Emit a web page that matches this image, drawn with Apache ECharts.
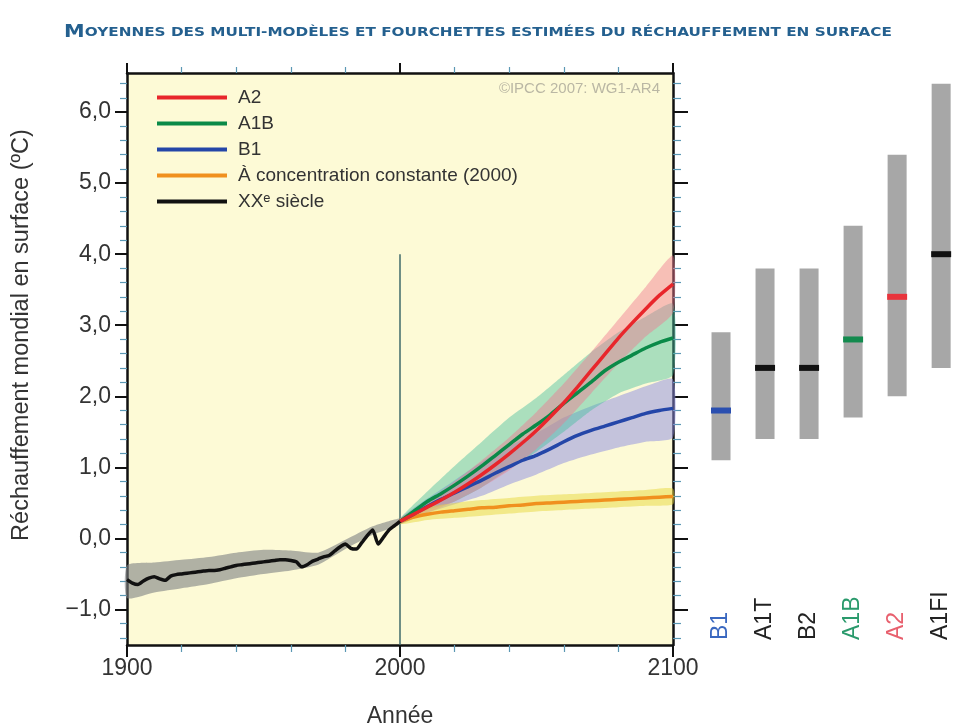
<!DOCTYPE html>
<html><head><meta charset="utf-8">
<script src="https://cdn.jsdelivr.net/npm/echarts@6/dist/echarts.min.js"></script>
<style>html,body{margin:0;padding:0;background:#fff}#c{width:959px;height:728px}</style>
</head><body><div id="c"></div>
<script>
// ---- data ----
const histYears = [1900,1902,1904,1906,1908,1910,1912,1914,1916,1918,1920,1922,1924,1926,1928,1930,1932,1934,1936,1938,1940,1942,1944,1946,1948,1950,1952,1954,1956,1958,1960,1962,1964,1966,1968,1970,1972,1974,1976,1978,1980,1982,1984,1986,1988,1990,1992,1994,1996,1998,2000];
const histMean = [-0.58,-0.63,-0.65,-0.60,-0.56,-0.54,-0.57,-0.59,-0.53,-0.51,-0.50,-0.49,-0.48,-0.47,-0.46,-0.45,-0.45,-0.44,-0.42,-0.40,-0.38,-0.37,-0.36,-0.35,-0.34,-0.33,-0.32,-0.31,-0.30,-0.30,-0.31,-0.33,-0.40,-0.37,-0.32,-0.29,-0.26,-0.24,-0.18,-0.12,-0.08,-0.14,-0.15,-0.06,0.04,0.12,-0.08,0.02,0.12,0.18,0.24];
const histBandYears = [1900,1910,1920,1930,1940,1950,1960,1970,1980,1990,2000];
const histUpper = [-0.38,-0.34,-0.30,-0.26,-0.20,-0.16,-0.17,-0.20,-0.02,0.17,0.28];
const histLower = [-0.84,-0.76,-0.70,-0.64,-0.56,-0.50,-0.45,-0.37,-0.15,0.05,0.20];

const futYears = [2000,2005,2010,2015,2020,2025,2030,2035,2040,2045,2050,2055,2060,2065,2070,2075,2080,2085,2090,2095,2100];
const a2Mean   = [0.24,0.34,0.44,0.54,0.65,0.77,0.90,1.04,1.19,1.35,1.52,1.71,1.91,2.13,2.36,2.59,2.82,3.03,3.23,3.42,3.58];
const a1bMean  = [0.24,0.38,0.52,0.63,0.75,0.88,1.02,1.17,1.32,1.47,1.60,1.74,1.90,2.05,2.20,2.36,2.48,2.58,2.68,2.76,2.82];
const b1Mean   = [0.24,0.34,0.45,0.55,0.64,0.73,0.82,0.92,1.01,1.10,1.17,1.26,1.36,1.45,1.52,1.58,1.64,1.70,1.76,1.80,1.83];
const constMean= [0.24,0.30,0.34,0.37,0.39,0.41,0.43,0.44,0.46,0.47,0.49,0.50,0.51,0.52,0.53,0.54,0.55,0.56,0.57,0.58,0.59];

const futBandYears = [2000,2010,2020,2030,2040,2050,2060,2070,2080,2090,2100];
const a2Upper  = [0.28,0.52,0.80,1.10,1.42,1.78,2.18,2.62,3.08,3.54,3.98];
const a2Lower  = [0.20,0.36,0.52,0.72,0.96,1.26,1.62,2.04,2.46,2.84,3.18];
const a1bUpper = [0.28,0.66,1.02,1.36,1.70,1.98,2.30,2.62,2.90,3.12,3.30];
const a1bLower = [0.20,0.40,0.52,0.72,0.98,1.22,1.50,1.80,2.04,2.18,2.30];
const b1Upper  = [0.28,0.56,0.82,1.08,1.30,1.48,1.70,1.86,2.00,2.14,2.24];
const b1Lower  = [0.20,0.36,0.48,0.60,0.76,0.90,1.06,1.18,1.28,1.36,1.42];
const constUpper = [0.28,0.44,0.50,0.54,0.57,0.60,0.62,0.64,0.66,0.68,0.70];
const constLower = [0.20,0.26,0.29,0.32,0.35,0.38,0.40,0.42,0.44,0.46,0.48];

const scenarios = ['B1','A1T','B2','A1B','A2','A1FI'];
const rangeLow  = [1.1,1.4,1.4,1.7,2.0,2.4];
const rangeHigh = [2.9,3.8,3.8,4.4,5.4,6.4];
const bestEst   = [1.8,2.4,2.4,2.8,3.4,4.0];

const yTickLabels = [-1,0,1,2,3,4,5,6];
const xTickLabels = [1900,2000,2100];
const refYear = 2000, refTop = 4.0;

// ---- styles ----
const FONT = 'Liberation Sans, Arial, sans-serif';
const scenarioMarkColors = ['#2a4fb0','#111111','#111111','#138a4e','#e8343c','#111111'];
const scenarioLabelColors = ['#3a68c0','#222222','#222222','#2a9a6c','#e8606e','#222222'];
const Y_MIN = -1.5, Y_MAX = 6.55;
const BAR_W = 19;
const yMinor = [];
for (let v = -14; v <= 64; v += 2) { if (v % 10 !== 0) yMinor.push(v / 10); }
const scenIdx = scenarios.map((s, i) => i);

function band(name, xs, up, lo, color) {
  return {
    type: 'custom', name: name, xAxisIndex: 0, yAxisIndex: 0, silent: true, z: 2,
    data: [[xs[0], up[0]]],
    renderItem: function (params, api) {
      const pts = [];
      for (let i = 0; i < xs.length; i++) pts.push(api.coord([xs[i], up[i]]));
      for (let i = xs.length - 1; i >= 0; i--) pts.push(api.coord([xs[i], lo[i]]));
      return { type: 'polygon', shape: { points: pts, smooth: 0.2 }, style: { fill: color } };
    }
  };
}
function line(name, xs, ys, color, z) {
  return {
    type: 'line', name: name, xAxisIndex: 0, yAxisIndex: 0, color: color, z: z,
    showSymbol: false, symbol: 'none', smooth: 0.2,
    lineStyle: { color: color, width: 3.5 },
    data: xs.map((x, i) => [x, ys[i]])
  };
}

const chart = echarts.init(document.getElementById('c'), null, { renderer: 'canvas' });
const fmt = v => (v < 0 ? '\u2212' : '') + Math.abs(v).toFixed(1).replace('.', ',');

const option = {
  backgroundColor: '#ffffff',
  animation: false,
  textStyle: { fontFamily: FONT },
  grid: [
    { left: 127, top: 73, width: 546, height: 572, show: true, backgroundColor: '#fdfad6', borderWidth: 0,
      containLabel: false, outerBoundsMode: 'none' },
    { left: 699, top: 73, width: 258, height: 572, containLabel: false, outerBoundsMode: 'none' }
  ],
  legend: {
    orient: 'vertical', left: 152, top: 83, itemWidth: 70, itemHeight: 4, itemGap: 7,
    icon: 'rect', selectedMode: false,
    textStyle: { fontSize: 19, color: '#333', fontFamily: FONT, lineHeight: 19, padding: [0, 0, 0, 6] },
    data: ['A2', 'A1B', 'B1', 'À concentration constante (2000)', 'XXᵉ siècle']
  },
  xAxis: [
    { gridIndex: 0, type: 'value', min: 1900, max: 2100, interval: 100, position: 'bottom',
      axisLine: { show: true, onZero: false, lineStyle: { color: '#111', width: 2.5 } },
      axisTick: { show: true, length: 12, lineStyle: { color: '#111', width: 2 } },
      minorTick: { show: true, splitNumber: 5, length: 7, lineStyle: { color: '#5b98b4', width: 1.2 } },
      axisLabel: { fontSize: 23, color: '#333', margin: 12, fontFamily: FONT,
        customValues: xTickLabels, formatter: v => String(v) },
      splitLine: { show: false },
      name: 'Année', nameLocation: 'middle', nameGap: 60,
      nameTextStyle: { fontSize: 23, color: '#333', fontFamily: FONT } },
    { gridIndex: 0, type: 'value', min: 1900, max: 2100, interval: 100, position: 'top',
      axisLine: { show: true, onZero: false, lineStyle: { color: '#111', width: 2.5 } },
      axisTick: { show: true, length: 10, lineStyle: { color: '#111', width: 2 } },
      minorTick: { show: true, splitNumber: 5, length: 6, lineStyle: { color: '#5b98b4', width: 1.2 } },
      axisLabel: { show: false }, splitLine: { show: false } },
    { gridIndex: 1, type: 'value', min: -0.5, max: 5.36, position: 'bottom',
      axisLine: { show: false, onZero: false }, axisTick: { show: false }, splitLine: { show: false },
      axisLabel: { inside: true, rotate: 90, margin: 5, fontSize: 23, fontFamily: FONT,
        customValues: scenIdx, formatter: v => scenarios[v],
        color: v => scenarioLabelColors[v] } }
  ],
  yAxis: [
    { gridIndex: 0, type: 'value', min: Y_MIN, max: Y_MAX, position: 'left',
      axisLine: { show: true, onZero: false, lineStyle: { color: '#111', width: 2.5 } },
      axisTick: { show: true, customValues: yTickLabels, length: 12, lineStyle: { color: '#111', width: 2 } },
      axisLabel: { customValues: yTickLabels, formatter: fmt, fontSize: 23, color: '#333', margin: 16, fontFamily: FONT },
      splitLine: { show: false } },
    { gridIndex: 0, type: 'value', min: Y_MIN, max: Y_MAX, position: 'left',
      axisLine: { show: false, onZero: false },
      axisTick: { show: true, customValues: yMinor, length: 7, lineStyle: { color: '#5b98b4', width: 1.2 } },
      axisLabel: { show: false }, splitLine: { show: false } },
    { gridIndex: 0, type: 'value', min: Y_MIN, max: Y_MAX, position: 'right',
      axisLine: { show: true, onZero: false, lineStyle: { color: '#111', width: 2.5 } },
      axisTick: { show: true, customValues: yTickLabels, length: 15, lineStyle: { color: '#111', width: 2 } },
      axisLabel: { show: false }, splitLine: { show: false } },
    { gridIndex: 0, type: 'value', min: Y_MIN, max: Y_MAX, position: 'right',
      axisLine: { show: false, onZero: false },
      axisTick: { show: true, customValues: yMinor, length: 8, lineStyle: { color: '#5b98b4', width: 1.2 } },
      axisLabel: { show: false }, splitLine: { show: false } },
    { gridIndex: 1, type: 'value', min: Y_MIN, max: Y_MAX, show: false }
  ],
  series: [
    band('histBand', histBandYears, histUpper, histLower, 'rgba(125,128,130,0.6)'),
    band('b1Band', futBandYears, b1Upper, b1Lower, 'rgba(140,140,225,0.5)'),
    band('a1bBand', futBandYears, a1bUpper, a1bLower, 'rgba(70,190,160,0.45)'),
    band('a2Band', futBandYears, a2Upper, a2Lower, 'rgba(240,120,145,0.45)'),
    band('constBand', futBandYears, constUpper, constLower, 'rgba(232,215,60,0.5)'),
    { type: 'line', name: 'ref2000', xAxisIndex: 0, yAxisIndex: 0, silent: true, z: 1,
      showSymbol: false, symbol: 'none', lineStyle: { color: '#3f6a6a', width: 1.5 },
      data: [[refYear, Y_MIN], [refYear, refTop]] },
    line('À concentration constante (2000)', futYears, constMean, '#f0901e', 5),
    line('B1', futYears, b1Mean, '#2446a8', 6),
    line('A1B', futYears, a1bMean, '#0a8a48', 7),
    line('A2', futYears, a2Mean, '#e8262b', 8),
    line('XXᵉ siècle', histYears, histMean, '#111111', 9),
    { type: 'custom', name: 'ranges', xAxisIndex: 2, yAxisIndex: 4, silent: true, z: 3,
      data: scenIdx.map(i => [i, rangeLow[i], rangeHigh[i]]),
      renderItem: function (params, api) {
        const lo = api.coord([api.value(0), api.value(1)]);
        const hi = api.coord([api.value(0), api.value(2)]);
        return { type: 'rect', shape: { x: lo[0] - BAR_W / 2, y: hi[1], width: BAR_W, height: lo[1] - hi[1] },
          style: { fill: '#a7a7a7' } };
      } },
    { type: 'custom', name: 'best', xAxisIndex: 2, yAxisIndex: 4, silent: true, z: 10,
      data: scenIdx.map(i => [i, bestEst[i]]),
      renderItem: function (params, api) {
        const p = api.coord([api.value(0), api.value(1)]);
        return { type: 'rect', shape: { x: p[0] - (BAR_W + 1) / 2, y: p[1] - 3, width: BAR_W + 1, height: 6 },
          style: { fill: scenarioMarkColors[params.dataIndex] } };
      } }
  ],
  graphic: [
    { type: 'text', x: 478, y: 33, scaleX: 1.22,
      style: { text: '{a|M}{b|OYENNES DES MULTI-MODÈLES ET FOURCHETTES ESTIMÉES DU RÉCHAUFFEMENT EN SURFACE}',
        align: 'center', verticalAlign: 'middle',
        rich: { a: { fontSize: 17, fontWeight: 'bold', fontFamily: 'DejaVu Sans', fill: '#24608f' },
                b: { fontSize: 12.5, fontWeight: 'bold', fontFamily: 'DejaVu Sans', fill: '#24608f' } } } },
    { type: 'text', x: 22, y: 335, rotation: Math.PI / 2,
      style: { text: 'Réchauffement mondial en surface (ºC)', fontSize: 23.5, fontFamily: FONT, fill: '#333',
        align: 'center', verticalAlign: 'middle' } },
    { type: 'text', x: 660, y: 89,
      style: { text: '©IPCC 2007: WG1-AR4', fontSize: 15, fontFamily: FONT, fill: '#bab7a4',
        align: 'right', verticalAlign: 'middle' } }
  ]
};
chart.setOption(option);
</script>
</body></html>
